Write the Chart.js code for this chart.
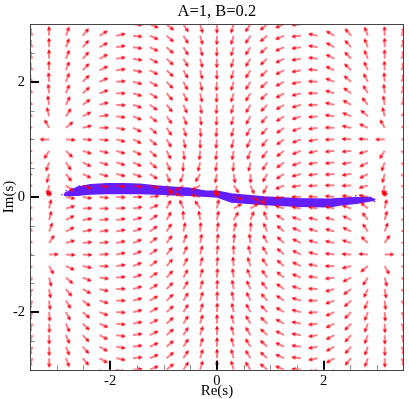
<!DOCTYPE html>
<html>
<head>
<meta charset="utf-8">
<script src="https://cdn.jsdelivr.net/npm/chart.js@4.4.0/dist/chart.umd.min.js"></script>
<style>
  html, body { margin: 0; padding: 0; background: #fff; }
</style>
</head>
<body>
<canvas id="chart" width="409" height="399"></canvas>
<script>
'use strict';

// grid of the drift arrows
let gridX = [-3.456, -3.142, -2.827, -2.513, -2.199, -1.885, -1.571, -1.257, -0.942, -0.628, -0.314, 0,
             0.314, 0.628, 0.942, 1.257, 1.571, 1.885, 2.199, 2.513, 2.827, 3.142, 3.456];
let gridY = [3.0, 2.8, 2.6, 2.4, 2.2, 2.0, 1.8, 1.6, 1.4, 1.2, 1.0, 0.8, 0.6, 0.4, 0.2, 0,
             -0.2, -0.4, -0.6, -0.8, -1.0, -1.2, -1.4, -1.6, -1.8, -2.0, -2.2, -2.4, -2.6, -2.8, -3.0];

// arrow direction in degrees (0 = right, 90 = up), one row per gridY value, null = no arrow
let angles = [
  [110, 91, 71, 51, 32, 13, -5, -23, -40, -57, -74, -90, -107, -124, -140, -157, -175, 167, 149, 130, 110, 91, 71],
  [111, 91, 70, 50, 31, 12, -6, -24, -41, -58, -74, -91, -107, -123, -140, -157, -174, 168, 150, 131, 111, 91, 70],
  [112, 91, 70, 49, 29, 10, -8, -25, -42, -58, -75, -91, -107, -123, -139, -156, -172, 170, 151, 132, 112, 91, 70],
  [113, 91, 69, 48, 28, 9, -9, -27, -43, -59, -75, -91, -107, -122, -138, -154, -171, 172, 153, 134, 113, 91, 69],
  [114, 92, 69, 46, 26, 7, -11, -28, -44, -60, -76, -91, -106, -122, -137, -153, -169, 174, 156, 136, 114, 92, 69],
  [118, 94, 69, 45, 24, 4, -14, -30, -46, -62, -78, -93, -107, -122, -137, -152, -167, 177, 159, 140, 118, 94, 69],
  [121, 96, 68, 42, 20, 0, -17, -33, -49, -64, -78, -93, -107, -122, -136, -150, -165, 180, 163, 144, 121, 96, 68],
  [129, 99, 64, 36, 15, -3, -19, -35, -51, -66, -80, -94, -107, -120, -134, -149, -163, -178, 167, 151, 129, 99, 64],
  [139, 104, 57, 27, 8, -7, -22, -38, -54, -69, -82, -94, -106, -119, -132, -147, -161, -175, 172, 158, 139, 104, 57],
  [155, 119, 40, 14, 1, -11, -25, -40, -56, -72, -85, -95, -105, -117, -131, -145, -159, -172, 178, 168, 155, 119, 40],
  [177, -179, -4, -3, -7, -15, -26, -41, -59, -76, -89, -96, -104, -114, -128, -144, -158, -169, -178, 177, 177, -179, -4],
  [-163, -123, -44, -18, -13, -17, -26, -42, -63, -83, -95, -98, -100, -110, -126, -143, -158, -168, -174, -174, -163, -123, -44],
  [-152, -110, -56, -26, -16, -17, -24, -40, -66, -93, -104, -99, -94, -102, -122, -144, -160, -169, -173, -170, -152, -110, -56],
  [-152, -105, -53, -26, -16, -14, -19, -33, -68, -112, -121, -101, -81, -89, -119, -147, -164, -172, -175, -171, -152, -105, -53],
  [-164, -103, -39, -19, -12, -9, -10, -17, -59, -147, -150, -102, -56, -66, -117, -157, -171, -177, -180, -178, -164, -103, -39],
  [169, null, -11, -9, -6, -3, 0, 6, 43, 157, 166, null, -14, -23, -137, -174, 180, 177, 174, 171, 169, null, -11],
  [141, 77, 16, 2, 0, 3, 9, 23, 63, 114, 124, 78, 30, 33, 121, 163, 170, 171, 168, 161, 141, 77, 16],
  [127, 75, 28, 9, 5, 8, 16, 33, 61, 91, 99, 79, 59, 68, 112, 147, 161, 166, 164, 154, 127, 75, 28],
  [124, 70, 28, 10, 7, 11, 20, 36, 58, 78, 86, 81, 76, 87, 114, 140, 156, 163, 164, 154, 124, 70, 28],
  [136, 57, 17, 6, 6, 12, 22, 37, 54, 70, 80, 82, 85, 97, 117, 138, 154, 163, 167, 162, 136, 57, 17],
  [176, 1, -3, -3, 2, 11, 22, 36, 52, 66, 76, 84, 91, 104, 121, 139, 154, 165, 173, 177, 176, 1, -3],
  [-140, -61, -25, -12, -2, 8, 21, 35, 49, 63, 75, 85, 95, 108, 124, 140, 155, 169, -179, -166, -140, -61, -25],
  [-123, -76, -41, -22, -8, 5, 19, 33, 48, 61, 74, 86, 98, 111, 126, 142, 158, 173, -172, -153, -123, -76, -41],
  [-116, -81, -51, -29, -13, 2, 17, 31, 46, 60, 73, 86, 100, 114, 129, 145, 161, 177, -165, -144, -116, -81, -51],
  [-112, -84, -59, -36, -17, 0, 15, 30, 44, 58, 73, 87, 102, 116, 131, 147, 163, 180, -160, -138, -112, -84, -59],
  [-111, -86, -62, -40, -21, -3, 13, 28, 43, 58, 73, 87, 102, 118, 134, 150, 166, -176, -156, -135, -111, -86, -62],
  [-111, -88, -66, -44, -24, -6, 11, 27, 43, 58, 74, 89, 104, 120, 136, 152, 169, -173, -154, -134, -111, -88, -66],
  [-111, -89, -67, -46, -27, -8, 9, 26, 42, 58, 73, 89, 105, 121, 137, 153, 171, -171, -152, -132, -111, -89, -67],
  [-110, -89, -68, -48, -29, -10, 8, 24, 41, 57, 73, 89, 105, 122, 138, 155, 172, -170, -151, -131, -110, -89, -68],
  [-110, -89, -69, -49, -30, -12, 6, 23, 40, 57, 73, 89, 106, 122, 139, 156, 174, -168, -150, -131, -110, -89, -69],
  [-109, -89, -70, -50, -31, -13, 5, 23, 40, 56, 73, 90, 106, 123, 140, 157, 175, -167, -148, -129, -109, -89, -70]
];

// points where the drift has no direction
let poleX = [-3.142, 0, 3.142];
let poleY = [0.06, 0.06, 0.06];

// outline of the cloud of sampled points
let bandTopX = [-2.85, -2.61, -2.37, -2.06, -1.76, -1.44, -1.14, -0.84, -0.52, -0.21, 0.01, 0.27, 0.89, 1.51, 2.12, 2.43, 2.85, 2.95];
let bandTopY = [0.06, 0.17, 0.21, 0.23, 0.23, 0.22, 0.19, 0.17, 0.15, 0.10, 0.10, 0.05, 0.0, -0.03, -0.04, -0.02, -0.01, -0.04];
let bandBottomX = [-2.85, -2.61, -2.37, -2.06, -1.44, -1.14, -0.84, -0.52, -0.21, 0.01, 0.27, 0.89, 1.51, 2.12, 2.30, 2.61, 2.93];
let bandBottomY = [0.03, 0.03, 0.05, 0.06, 0.06, 0.05, 0.04, 0.03, 0.01, 0.0, -0.09, -0.13, -0.16, -0.17, -0.14, -0.11, -0.06];

// loose points at the ends of the cloud
let strayX = [-2.9, -2.82, -2.76, -2.7, -2.66, -2.58, 2.52, 2.6, 2.68, 2.74, 2.8, 2.88, 2.95];
let strayY = [0.04, 0.11, 0.01, 0.14, 0.07, 0.19, -0.01, 0.02, -0.07, 0.01, -0.04, -0.01, -0.08];

let xMajor = [-2, 0, 2];
let xMinor = [-3, -2.5, -1.5, -1, -0.5, 0.5, 1, 1.5, 2.5, 3];
let yMajor = [-2, 0, 2];
let yMinor = [-2.5, -1.5, -1, -0.5, 0.5, 1, 1.5, 2.5];

let arrowColor = 'rgb(250, 0, 16)';
let cloudColor = 'rgb(98, 30, 255)';
let serif = "'Liberation Serif', 'DejaVu Serif', serif";

// one arrow picture, tail at the middle of the canvas, pointing right
function makeArrow() {
  let len = 8.5;
  let head = 3.3;
  let spread = 0.45;
  let size = 22;
  let m = size / 2;
  let c = document.createElement('canvas');
  c.width = size;
  c.height = size;
  let g = c.getContext('2d');
  g.strokeStyle = arrowColor;
  g.lineWidth = 1.1;
  g.lineCap = 'butt';
  g.beginPath();
  g.moveTo(m, m);
  g.lineTo(m + len, m);
  g.moveTo(m + len - head * Math.cos(spread), m - head * Math.sin(spread));
  g.lineTo(m + len, m);
  g.lineTo(m + len - head * Math.cos(spread), m + head * Math.sin(spread));
  g.stroke();
  return c;
}

let arrowPoints = [];
gridY.forEach(function (y, j) {
  gridX.forEach(function (x, i) {
    let a = angles[j][i];
    if (a !== null) {
      arrowPoints.push({ x: x, y: y, a: a });
    }
  });
});

let bandPoints = [];
for (let i = 0; i < bandTopX.length; i++) {
  bandPoints.push({ x: bandTopX[i], y: bandTopY[i] });
}
for (let i = bandBottomX.length - 1; i >= 0; i--) {
  bandPoints.push({ x: bandBottomX[i], y: bandBottomY[i] });
}
bandPoints.push({ x: bandTopX[0], y: bandTopY[0] });

let strayPoints = strayX.map(function (x, i) { return { x: x, y: strayY[i] }; });
let polePoints = poleX.map(function (x, i) { return { x: x, y: poleY[i] }; });

// frame and inward ticks, like the original plot
let frameTicks = {
  id: 'frameTicks',
  afterDatasetsDraw(chart) {
    let ctx = chart.ctx;
    let a = chart.chartArea;
    let xs = chart.scales.x;
    let ys = chart.scales.y;
    ctx.save();

    ctx.strokeStyle = '#888';
    ctx.lineWidth = 1;
    ctx.beginPath();
    xMinor.forEach(function (v) {
      let px = Math.round(xs.getPixelForValue(v)) + 0.5;
      ctx.moveTo(px, a.bottom);
      ctx.lineTo(px, a.bottom - 4.5);
    });
    yMinor.forEach(function (v) {
      let py = Math.round(ys.getPixelForValue(v)) + 0.5;
      ctx.moveTo(a.left, py);
      ctx.lineTo(a.left + 4.5, py);
    });
    ctx.stroke();

    ctx.strokeStyle = '#000';
    ctx.lineWidth = 2;
    ctx.beginPath();
    xMajor.forEach(function (v) {
      let px = Math.round(xs.getPixelForValue(v));
      ctx.moveTo(px, a.bottom);
      ctx.lineTo(px, a.bottom - 9);
    });
    yMajor.forEach(function (v) {
      let py = Math.round(ys.getPixelForValue(v));
      ctx.moveTo(a.left, py);
      ctx.lineTo(a.left + 9, py);
    });
    ctx.stroke();

    ctx.strokeStyle = '#444';
    ctx.lineWidth = 1;
    ctx.strokeRect(Math.round(a.left) + 0.5, Math.round(a.top) + 0.5,
      Math.round(a.right) - Math.round(a.left) - 1, Math.round(a.bottom) - Math.round(a.top));
    ctx.restore();
  }
};

let ctx = document.getElementById('chart').getContext('2d');
new Chart(ctx, {
  type: 'scatter',
  data: {
    datasets: [
      {
        label: 'drift',
        data: arrowPoints,
        pointStyle: makeArrow(),
        pointRadius: 3,
        pointRotation: function (c) { return c.raw ? -c.raw.a : 0; },
        clip: 0,
        order: 0
      },
      {
        label: 'poles',
        data: polePoints,
        pointStyle: 'star',
        pointRadius: 3,
        borderColor: arrowColor,
        borderWidth: 1.2,
        order: 0
      },
      {
        label: 'cloud',
        type: 'line',
        data: bandPoints,
        borderColor: cloudColor,
        backgroundColor: cloudColor,
        borderWidth: 1.5,
        pointRadius: 0,
        tension: 0,
        fill: 'shape',
        order: 2
      },
      {
        label: 'cloud edge',
        data: strayPoints,
        pointStyle: 'rect',
        pointRadius: 1,
        borderWidth: 0,
        backgroundColor: cloudColor,
        order: 2
      }
    ]
  },
  options: {
    responsive: false,
    animation: false,
    devicePixelRatio: 1,
    events: [],
    layout: { padding: { left: 0, right: 2, top: 0, bottom: 0 } },
    plugins: {
      legend: { display: false },
      tooltip: { enabled: false },
      title: {
        display: true,
        fullSize: false,
        text: 'A=1, B=0.2',
        color: '#000',
        font: { family: serif, size: 16.5, weight: 'normal', lineHeight: 1.2 },
        padding: { top: 1.5, bottom: 2.9 }
      }
    },
    scales: {
      x: {
        type: 'linear',
        min: -3.5,
        max: 3.5,
        afterBuildTicks: function (s) { s.ticks = xMajor.map(function (v) { return { value: v }; }); },
        afterFit: function (s) { s.height = 29.3; },
        grid: { display: false, drawTicks: false },
        border: { display: false },
        ticks: { color: '#000', padding: 3, font: { family: serif, size: 14.5 } },
        title: {
          display: true,
          text: 'Re(s)',
          color: '#000',
          padding: 0,
          font: { family: serif, size: 15, lineHeight: 1.0 }
        }
      },
      y: {
        type: 'linear',
        min: -3,
        max: 3,
        afterBuildTicks: function (s) { s.ticks = yMajor.map(function (v) { return { value: v }; }); },
        afterFit: function (s) { s.width = 30; },
        grid: { display: false, drawTicks: false },
        border: { display: false },
        ticks: { color: '#000', padding: 5, font: { family: serif, size: 14.5 } },
        title: {
          display: true,
          text: 'Im(s)',
          color: '#000',
          padding: 0,
          font: { family: serif, size: 15, lineHeight: 1.2 }
        }
      }
    }
  },
  plugins: [frameTicks]
});
</script>
</body>
</html>
